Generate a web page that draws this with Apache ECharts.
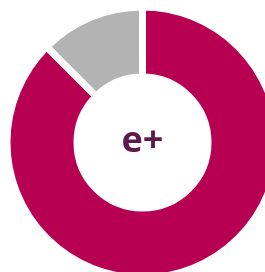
<!DOCTYPE html>
<html>
<head>
<meta charset="utf-8">
<script src="https://cdn.jsdelivr.net/npm/echarts@6/dist/echarts.min.js"></script>
<style>
html,body{margin:0;padding:0;background:#fff;}
#c{width:265px;height:272px;}
</style>
</head>
<body>
<div id="c"></div>
<script>
var categories = ['e+', 'other'];
var values = [87.5, 12.5];
var colors = ['#B70052', '#B3B3B3'];
var centerLabel = 'e+';

var chart = echarts.init(document.getElementById('c'), null, {renderer: 'canvas'});
chart.setOption({
  animation: false,
  backgroundColor: '#ffffff',
  series: [{
    type: 'pie',
    center: [142.5, 142.5],
    radius: [65.5, 135.5],
    startAngle: 90,
    clockwise: true,
    label: {show: false},
    labelLine: {show: false},
    itemStyle: {borderColor: '#ffffff', borderWidth: 7},
    emphasis: {disabled: true},
    data: categories.map(function (c, i) {
      return {name: c, value: values[i], itemStyle: {color: colors[i]}};
    })
  }],
  graphic: [{
    type: 'text',
    x: 142.5,
    y: 142,
    style: {
      text: centerLabel,
      font: 'bold 36px "Open Sans"',
      fill: '#5B1A4A',
      textAlign: 'center',
      textVerticalAlign: 'middle'
    }
  }]
});
</script>
</body>
</html>
